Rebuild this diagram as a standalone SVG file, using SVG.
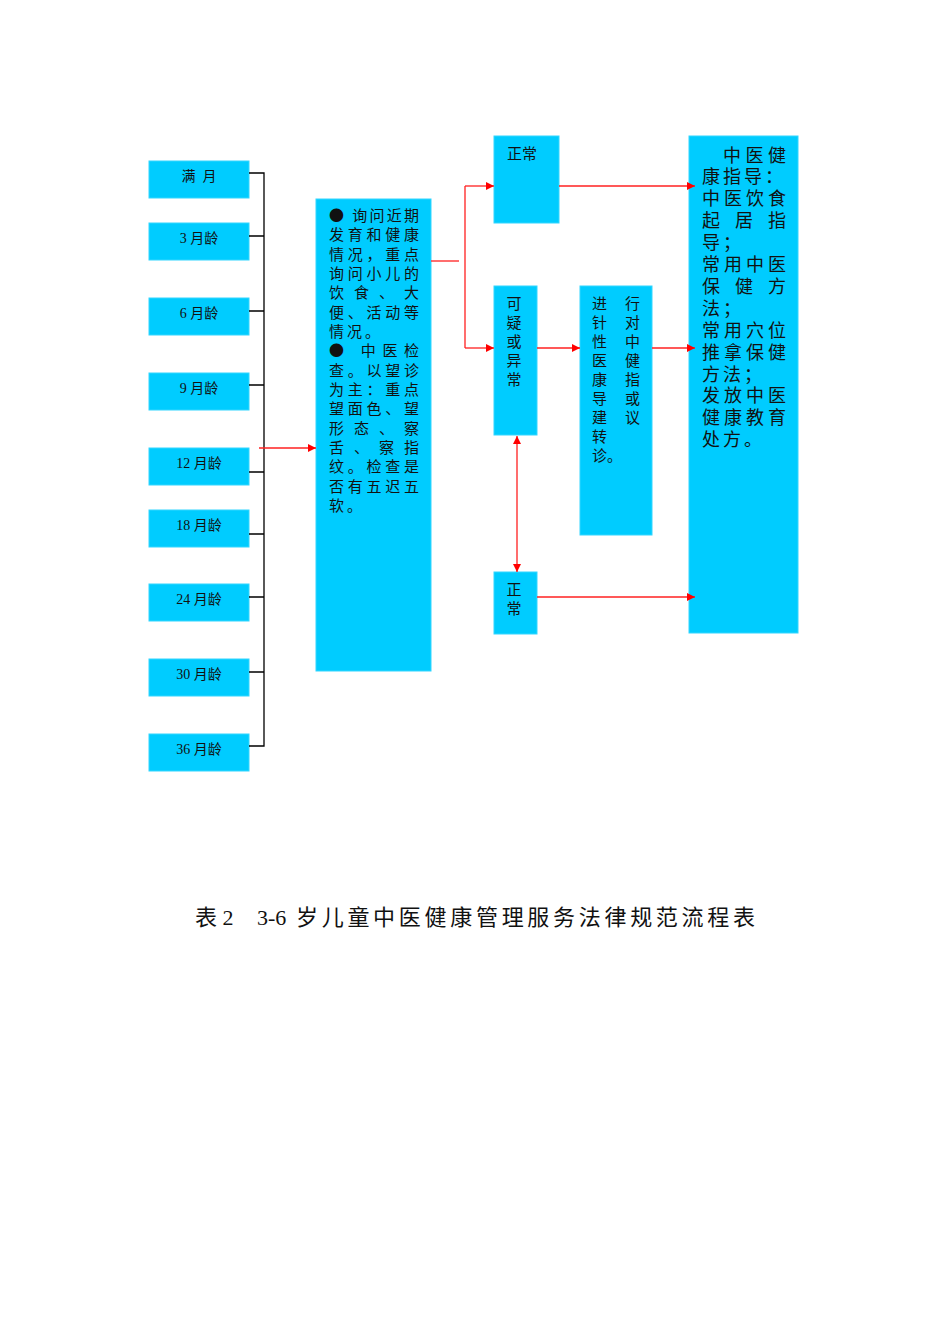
<svg xmlns="http://www.w3.org/2000/svg" width="950" height="1344" viewBox="0 0 950 1344">
<style>
.box{fill:#00CCFF;stroke:#33D6FF;stroke-width:1}
.t{font-family:"Liberation Serif","Noto Sans CJK SC",serif;fill:#111}
.s{font-size:14px;text-anchor:middle;white-space:pre}
.m{font-size:15px}
.r{font-size:18px}
.b{font-family:"Noto Sans CJK SC",sans-serif}
.k{stroke:#000;stroke-width:1.3;fill:none}
.red{stroke:#FF2020;stroke-width:1.3;fill:none}
</style>
<defs>
<marker id="ah" viewBox="0 0 10 10" refX="10" refY="5" markerWidth="8" markerHeight="8" markerUnits="userSpaceOnUse" orient="auto-start-reverse">
<path d="M0,0 L10,5 L0,10 z" fill="#FF0000"/>
</marker>
</defs>
<rect width="950" height="1344" fill="#fff"/>

<g id="n-m1"><rect class="box" x="149" y="161" width="100" height="37"/><text class="t s" x="199" y="181" xml:space="preserve">满  月</text></g>
<g id="n-m3"><rect class="box" x="149" y="223" width="100" height="37"/><text class="t s" x="199" y="243">3 月龄</text></g>
<g id="n-m6"><rect class="box" x="149" y="298" width="100" height="37"/><text class="t s" x="199" y="318">6 月龄</text></g>
<g id="n-m9"><rect class="box" x="149" y="373" width="100" height="37"/><text class="t s" x="199" y="393">9 月龄</text></g>
<g id="n-m12"><rect class="box" x="149" y="448" width="100" height="37"/><text class="t s" x="199" y="468">12 月龄</text></g>
<g id="n-m18"><rect class="box" x="149" y="510" width="100" height="37"/><text class="t s" x="199" y="530">18 月龄</text></g>
<g id="n-m24"><rect class="box" x="149" y="584" width="100" height="37"/><text class="t s" x="199" y="604">24 月龄</text></g>
<g id="n-m30"><rect class="box" x="149" y="659" width="100" height="37"/><text class="t s" x="199" y="679">30 月龄</text></g>
<g id="n-m36"><rect class="box" x="149" y="734" width="100" height="37"/><text class="t s" x="199" y="754">36 月龄</text></g>

<g id="n-check">
<rect class="box" x="316" y="199" width="115" height="472"/>
<g class="t m">
<text x="329" y="221" textLength="90" lengthAdjust="spacing"><tspan class="b">●</tspan> 询问近期</text>
<text x="329" y="240.3" textLength="90" lengthAdjust="spacing">发育和健康</text>
<text x="329" y="259.7" textLength="90" lengthAdjust="spacing">情况，重点</text>
<text x="329" y="279" textLength="90" lengthAdjust="spacing">询问小儿的</text>
<text x="329" y="298.3" textLength="90" lengthAdjust="spacing">饮食、大</text>
<text x="329" y="317.7" textLength="90" lengthAdjust="spacing">便、活动等</text>
<text x="329" y="337" letter-spacing="3">情况。</text>
<text x="329" y="356.3" textLength="90" lengthAdjust="spacing"><tspan class="b">●</tspan> 中医检</text>
<text x="329" y="375.7" textLength="90" lengthAdjust="spacing">查。以望诊</text>
<text x="329" y="395" textLength="90" lengthAdjust="spacing">为主：重点</text>
<text x="329" y="414.3" textLength="90" lengthAdjust="spacing">望面色、望</text>
<text x="329" y="433.7" textLength="90" lengthAdjust="spacing">形态、察</text>
<text x="329" y="453" textLength="90" lengthAdjust="spacing">舌、察指</text>
<text x="329" y="472.3" textLength="90" lengthAdjust="spacing">纹。检查是</text>
<text x="329" y="491.7" textLength="90" lengthAdjust="spacing">否有五迟五</text>
<text x="329" y="511" letter-spacing="3">软。</text>
</g>
</g>

<g id="n-normal1"><rect class="box" x="494" y="136" width="65" height="87"/><text class="t m" x="507" y="159">正常</text></g>

<g id="n-abnormal">
<rect class="box" x="494" y="286" width="43" height="149"/>
<g class="t m" text-anchor="middle">
<text x="514" y="309">可</text><text x="514" y="328">疑</text><text x="514" y="347">或</text><text x="514" y="366">异</text><text x="514" y="385">常</text>
</g>
</g>

<g id="n-guide">
<rect class="box" x="580" y="286" width="72" height="249"/>
<g class="t m">
<text x="592" y="309" textLength="48" lengthAdjust="spacing">进行</text>
<text x="592" y="328" textLength="48" lengthAdjust="spacing">针对</text>
<text x="592" y="347" textLength="48" lengthAdjust="spacing">性中</text>
<text x="592" y="366" textLength="48" lengthAdjust="spacing">医健</text>
<text x="592" y="385" textLength="48" lengthAdjust="spacing">康指</text>
<text x="592" y="404" textLength="48" lengthAdjust="spacing">导或</text>
<text x="592" y="423" textLength="48" lengthAdjust="spacing">建议</text>
<text x="592" y="442">转</text>
<text x="592" y="461">诊。</text>
</g>
</g>

<g id="n-normal2">
<rect class="box" x="494" y="572" width="43" height="62"/>
<g class="t m" text-anchor="middle"><text x="514" y="595">正</text><text x="514" y="614">常</text></g>
</g>

<g id="n-tcm">
<rect class="box" x="689" y="136" width="109" height="497"/>
<g class="t r">
<text x="723" y="161.5" textLength="63" lengthAdjust="spacing">中医健</text>
<text x="702" y="183.4" letter-spacing="3">康指导：</text>
<text x="702" y="205.3" textLength="84" lengthAdjust="spacing">中医饮食</text>
<text x="702" y="227.2" textLength="84" lengthAdjust="spacing">起居指</text>
<text x="702" y="249.1" letter-spacing="3">导；</text>
<text x="702" y="271" textLength="84" lengthAdjust="spacing">常用中医</text>
<text x="702" y="292.9" textLength="84" lengthAdjust="spacing">保健方</text>
<text x="702" y="314.8" letter-spacing="3">法；</text>
<text x="702" y="336.7" textLength="84" lengthAdjust="spacing">常用穴位</text>
<text x="702" y="358.6" textLength="84" lengthAdjust="spacing">推拿保健</text>
<text x="702" y="380.5" letter-spacing="3">方法；</text>
<text x="702" y="402.4" textLength="84" lengthAdjust="spacing">发放中医</text>
<text x="702" y="424.3" textLength="84" lengthAdjust="spacing">健康教育</text>
<text x="702" y="446.2" letter-spacing="3">处方。</text>
</g>
</g>

<g id="connectors">
<path class="k" d="M249,173 H264 V746 H249 M249,236 H264 M249,311 H264 M249,385 H264 M249,472 H264 M249,534 H264 M249,597 H264 M249,672 H264"/>
<path class="red" d="M259,448 H316" marker-end="url(#ah)"/>
<path class="red" d="M431,261 H459"/>
<path class="red" d="M465,186 V348"/>
<path class="red" d="M465,186 H494" marker-end="url(#ah)"/>
<path class="red" d="M465,348 H494" marker-end="url(#ah)"/>
<path class="red" d="M559,186 H695" marker-end="url(#ah)"/>
<path class="red" d="M537,348 H580" marker-end="url(#ah)"/>
<path class="red" d="M652,348 H695" marker-end="url(#ah)"/>
<path class="red" d="M517,436 V572" marker-start="url(#ah)" marker-end="url(#ah)"/>
<path class="red" d="M537,597 H695" marker-end="url(#ah)"/>
</g>

<g id="caption" class="t" font-size="22">
<text x="195" y="925">表 2</text>
<text x="257" y="925">3-6</text>
<text x="296" y="925" textLength="459" lengthAdjust="spacing">岁儿童中医健康管理服务法律规范流程表</text>
</g>
</svg>
